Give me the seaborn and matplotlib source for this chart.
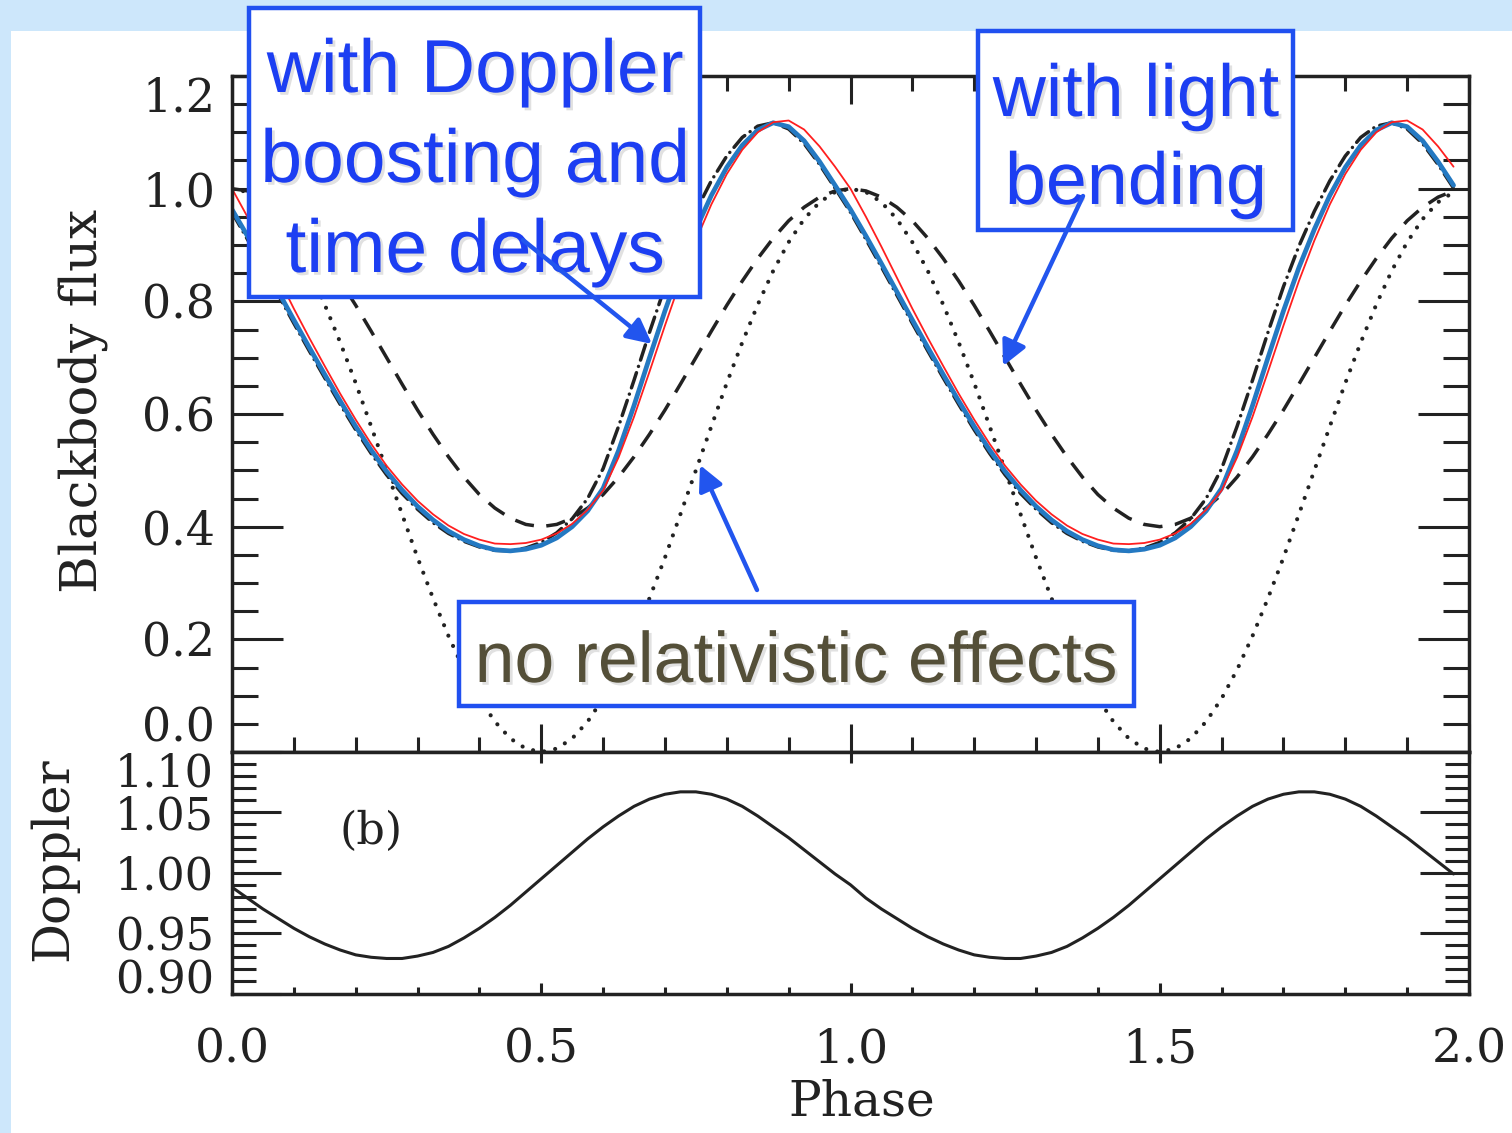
import numpy as np
import matplotlib
matplotlib.use("Agg")
import matplotlib.pyplot as plt
import matplotlib.patches as mpatches
import matplotlib.patheffects as pe
from matplotlib.ticker import FixedLocator, MultipleLocator, FormatStrFormatter
import seaborn as sns

# ---------------------------------------------------------------- data
# phase grid: 0.000 ... 1.975 in steps of 0.025 (80 samples)
phase = np.round(np.arange(80) * 0.025, 3)

# no relativistic effects (dotted)
flux_plain = [
    1.000, 0.994, 0.976, 0.946, 0.905, 0.854, 0.794, 0.727, 0.655, 0.578,
    0.500, 0.422, 0.345, 0.273, 0.206, 0.146, 0.095, 0.054, 0.024, 0.006,
    0.000, 0.006, 0.024, 0.054, 0.095, 0.146, 0.206, 0.273, 0.345, 0.422,
    0.500, 0.578, 0.655, 0.727, 0.794, 0.854, 0.905, 0.946, 0.976, 0.994,
    1.000, 0.994, 0.976, 0.946, 0.905, 0.854, 0.794, 0.727, 0.655, 0.578,
    0.500, 0.422, 0.345, 0.273, 0.206, 0.146, 0.095, 0.054, 0.024, 0.006,
    0.000, 0.006, 0.024, 0.054, 0.095, 0.146, 0.206, 0.273, 0.345, 0.422,
    0.500, 0.578, 0.655, 0.727, 0.794, 0.854, 0.905, 0.946, 0.976, 0.994]
# with light bending (dashed)
flux_bending = [
    1.000, 0.996, 0.985, 0.967, 0.943, 0.912, 0.876, 0.836, 0.793, 0.747,
    0.700, 0.653, 0.607, 0.564, 0.524, 0.488, 0.457, 0.433, 0.415, 0.404,
    0.400, 0.404, 0.415, 0.433, 0.457, 0.488, 0.524, 0.564, 0.607, 0.653,
    0.700, 0.747, 0.793, 0.836, 0.876, 0.912, 0.943, 0.967, 0.985, 0.996,
    1.000, 0.996, 0.985, 0.967, 0.943, 0.912, 0.876, 0.836, 0.793, 0.747,
    0.700, 0.653, 0.607, 0.564, 0.524, 0.488, 0.457, 0.433, 0.415, 0.404,
    0.400, 0.404, 0.415, 0.433, 0.457, 0.488, 0.524, 0.564, 0.607, 0.653,
    0.700, 0.747, 0.793, 0.836, 0.876, 0.912, 0.943, 0.967, 0.985, 0.996]
# bending + Doppler boosting (dash-dot)
flux_boost = [
    0.958, 0.910, 0.861, 0.811, 0.761, 0.712, 0.664, 0.617, 0.572, 0.530,
    0.492, 0.459, 0.431, 0.407, 0.388, 0.374, 0.364, 0.358, 0.357, 0.362,
    0.372, 0.389, 0.414, 0.450, 0.503, 0.578, 0.660, 0.745, 0.826, 0.898,
    0.960, 1.014, 1.058, 1.091, 1.111, 1.117, 1.106, 1.080, 1.043, 1.001,
    0.958, 0.910, 0.861, 0.811, 0.761, 0.712, 0.664, 0.617, 0.572, 0.530,
    0.492, 0.459, 0.431, 0.407, 0.388, 0.374, 0.364, 0.358, 0.357, 0.362,
    0.372, 0.389, 0.414, 0.450, 0.503, 0.578, 0.660, 0.745, 0.826, 0.898,
    0.960, 1.014, 1.058, 1.091, 1.111, 1.117, 1.106, 1.080, 1.043, 1.001]
# bending + boosting + time delays (blue)
flux_delay = [
    0.963, 0.916, 0.867, 0.817, 0.767, 0.718, 0.670, 0.623, 0.578, 0.536,
    0.498, 0.465, 0.436, 0.412, 0.392, 0.377, 0.366, 0.359, 0.357, 0.360,
    0.367, 0.380, 0.400, 0.428, 0.468, 0.535, 0.615, 0.700, 0.783, 0.860,
    0.928, 0.988, 1.038, 1.077, 1.104, 1.117, 1.110, 1.085, 1.048, 1.006,
    0.963, 0.916, 0.867, 0.817, 0.767, 0.718, 0.670, 0.623, 0.578, 0.536,
    0.498, 0.465, 0.436, 0.412, 0.392, 0.377, 0.366, 0.359, 0.357, 0.360,
    0.367, 0.380, 0.400, 0.428, 0.468, 0.535, 0.615, 0.700, 0.783, 0.860,
    0.928, 0.988, 1.038, 1.077, 1.104, 1.117, 1.110, 1.085, 1.048, 1.006]
# full calculation (red)
flux_full = [
    1.000, 0.950, 0.897, 0.842, 0.787, 0.735, 0.685, 0.636, 0.590, 0.547,
    0.508, 0.475, 0.446, 0.422, 0.402, 0.387, 0.377, 0.370, 0.369, 0.371,
    0.377, 0.388, 0.405, 0.430, 0.464, 0.523, 0.595, 0.675, 0.757, 0.836,
    0.908, 0.972, 1.026, 1.069, 1.100, 1.118, 1.121, 1.105, 1.075, 1.039,
    1.000, 0.950, 0.897, 0.842, 0.787, 0.735, 0.685, 0.636, 0.590, 0.547,
    0.508, 0.475, 0.446, 0.422, 0.402, 0.387, 0.377, 0.370, 0.369, 0.371,
    0.377, 0.388, 0.405, 0.430, 0.464, 0.523, 0.595, 0.675, 0.757, 0.836,
    0.908, 0.972, 1.026, 1.069, 1.100, 1.118, 1.121, 1.105, 1.075, 1.039]
# Doppler factor
doppler = [
    0.988, 0.979, 0.970, 0.962, 0.954, 0.947, 0.941, 0.936, 0.932, 0.930,
    0.929, 0.929, 0.931, 0.934, 0.939, 0.946, 0.954, 0.963, 0.973, 0.984,
    0.995, 1.006, 1.017, 1.028, 1.038, 1.047, 1.055, 1.061, 1.065, 1.067,
    1.067, 1.065, 1.061, 1.055, 1.047, 1.038, 1.029, 1.019, 1.009, 0.999,
    0.990, 0.979, 0.970, 0.962, 0.954, 0.947, 0.941, 0.936, 0.932, 0.930,
    0.929, 0.929, 0.931, 0.934, 0.939, 0.946, 0.954, 0.963, 0.973, 0.984,
    0.995, 1.006, 1.017, 1.028, 1.038, 1.047, 1.055, 1.061, 1.065, 1.067,
    1.067, 1.065, 1.061, 1.055, 1.047, 1.038, 1.029, 1.019, 1.009, 0.999]

flux_ticks = [0.0, 0.2, 0.4, 0.6, 0.8, 1.0, 1.2]
doppler_ticks = [0.90, 0.95, 1.00, 1.05, 1.10]
phase_ticks = [0.0, 0.5, 1.0, 1.5, 2.0]

# ---------------------------------------------------------------- style
sns.set_style("ticks")
plt.rcParams["font.family"] = ["DejaVu Serif"]
INK = "#222222"

W, H = 1512, 1133
fig = plt.figure(figsize=(W / 100, H / 100), dpi=100)
fig.patch.set_facecolor("#cde7fb")
fig.add_artist(mpatches.Rectangle((11 / W, 0), 1 - 11 / W, 1 - 31 / H,
                                  transform=fig.transFigure, facecolor="white",
                                  edgecolor="none", zorder=-1))


def frame(x0, y0, x1, y1):
    """Axes rectangle from pixel corners (top-left origin)."""
    return [x0 / W, 1 - y1 / H, (x1 - x0) / W, (y1 - y0) / H]


ax1 = fig.add_axes(frame(232, 76, 1469, 752))
ax2 = fig.add_axes(frame(232, 752, 1469, 993.5))

# ---------------------------------------------------------------- top panel
sns.lineplot(x=phase, y=flux_plain, ax=ax1, color=INK, lw=3.0,
             linestyle=(0, (0.01, 2.7)), dash_capstyle="round", legend=False)
sns.lineplot(x=phase, y=flux_bending, ax=ax1, color=INK, lw=2.5,
             linestyle=(0, (5.6, 3.6)), legend=False)
sns.lineplot(x=phase, y=flux_boost, ax=ax1, color=INK, lw=2.5,
             linestyle=(0, (4.6, 1.9, 0.01, 1.9)), dash_capstyle="round", legend=False)
sns.lineplot(x=phase, y=flux_delay, ax=ax1, color="#2479c2", lw=3.4, legend=False)
sns.lineplot(x=phase, y=flux_full, ax=ax1, color="#ff1f1f", lw=1.3, legend=False)

ax1.set_xlim(0, 2)
ax1.set_ylim(0, 1.2)
ax1.yaxis.set_major_locator(FixedLocator(flux_ticks))
ax1.yaxis.set_minor_locator(MultipleLocator(0.05))
ax1.yaxis.set_major_formatter(FormatStrFormatter("%.1f"))
ax1.xaxis.set_major_locator(FixedLocator(phase_ticks))
ax1.xaxis.set_minor_locator(MultipleLocator(0.1))
ax1.tick_params(axis="y", which="major", direction="in", length=37, width=2.2,
                left=True, right=True, labelsize=33, pad=12, color=INK, labelcolor=INK)
ax1.tick_params(axis="y", which="minor", direction="in", length=19, width=2.2,
                left=True, right=True, color=INK)
ax1.tick_params(axis="x", which="major", direction="in", length=20, width=2.2,
                top=True, bottom=True, labelbottom=False, color=INK)
ax1.tick_params(axis="x", which="minor", direction="in", length=11, width=2.2,
                top=True, bottom=True, color=INK)
ax1.set_ylabel("Blackbody flux", fontsize=37, color=INK)
ax1.yaxis.set_label_coords(-0.1205, 0.52)
ax1.yaxis.label.set_verticalalignment("center")
ax1.set_xlabel("")

# end labels are nudged inward so the two panels' labels do not collide
yt = ax1.yaxis.get_major_ticks()
yt[0].label1.set_verticalalignment("bottom")
yt[-1].label1.set_verticalalignment("top")

# ---------------------------------------------------------------- bottom panel
sns.lineplot(x=phase, y=doppler, ax=ax2, color=INK, lw=2.2, legend=False)
ax2.set_xlim(0, 2)
ax2.set_ylim(0.90, 1.10)
ax2.yaxis.set_major_locator(FixedLocator(doppler_ticks))
ax2.yaxis.set_minor_locator(MultipleLocator(0.01))
ax2.yaxis.set_major_formatter(FormatStrFormatter("%.2f"))
ax2.xaxis.set_major_locator(FixedLocator(phase_ticks))
ax2.xaxis.set_minor_locator(MultipleLocator(0.1))
ax2.xaxis.set_major_formatter(FormatStrFormatter("%.1f"))
ax2.tick_params(axis="y", which="major", direction="in", length=35, width=2.2,
                left=True, right=True, labelsize=32, pad=13, color=INK, labelcolor=INK)
ax2.tick_params(axis="y", which="minor", direction="in", length=17, width=2.2,
                left=True, right=True, color=INK)
ax2.tick_params(axis="x", which="major", direction="in", length=8, width=2.2,
                top=True, bottom=True, labelsize=34, pad=24, color=INK, labelcolor=INK)
ax2.tick_params(axis="x", which="minor", direction="in", length=5, width=2.2,
                top=False, bottom=True, color=INK)
ax2.set_ylabel("Doppler", fontsize=36, color=INK)
ax2.yaxis.set_label_coords(-0.1439, 0.557)
ax2.yaxis.label.set_verticalalignment("center")
ax2.set_xlabel("Phase", fontsize=35, color=INK)
ax2.xaxis.set_label_coords(0.509, -0.449)
ax2.xaxis.label.set_verticalalignment("center")
ax2.text(0.225, 1.034, "(b)", fontsize=32, color=INK, ha="center", va="center")

dt = ax2.yaxis.get_major_ticks()
dt[0].label1.set_verticalalignment("baseline")
dt[-1].label1.set_verticalalignment("top")

for ax in (ax1, ax2):
    for s in ax.spines.values():
        s.set_visible(True)
        s.set_linewidth(2.5)
        s.set_color(INK)

# ---------------------------------------------------------------- callouts
BLUE_EDGE = "#2050f0"
BLUE_TXT = "#1c3ef2"
shadow = [pe.withSimplePatchShadow(offset=(2, -2), shadow_rgbFace="#888888", alpha=0.25)]


def box(x0, y0, x1, y1):
    fig.add_artist(mpatches.Rectangle((x0 / W, 1 - y1 / H), (x1 - x0) / W, (y1 - y0) / H,
                                      transform=fig.transFigure, facecolor="white",
                                      edgecolor=BLUE_EDGE, linewidth=3.2, zorder=4))


def label(x, y, s, color=BLUE_TXT, size=54):
    fig.text(x / W, 1 - y / H, s, ha="center", va="baseline", fontsize=size,
             color=color, family=["Liberation Sans", "DejaVu Sans"], zorder=5,
             path_effects=shadow)


def arrow(xa, ya, xb, yb):
    fig.add_artist(mpatches.FancyArrowPatch(
        (xa / W, 1 - ya / H), (xb / W, 1 - yb / H), transform=fig.transFigure,
        arrowstyle="-|>,head_length=0.5,head_width=0.25", mutation_scale=30,
        color="#2255ee", linewidth=3.2, zorder=6, shrinkA=0, shrinkB=0))


box(249, 8, 700, 297)
label(475, 92, "with Doppler")
label(475, 182, "boosting and")
label(475, 272, "time delays")

box(978, 31, 1293, 230)
label(1136, 116, "with light", size=53)
label(1136, 204, "bending", size=53)

box(459, 602, 1134, 706)
label(796, 682, "no relativistic effects", color="#544f38", size=51.5)

arrow(523, 240, 652, 344)
arrow(1083, 196, 1003, 366)
arrow(757, 590, 700, 465)

fig.savefig("out.png", dpi=100, facecolor=fig.get_facecolor())
